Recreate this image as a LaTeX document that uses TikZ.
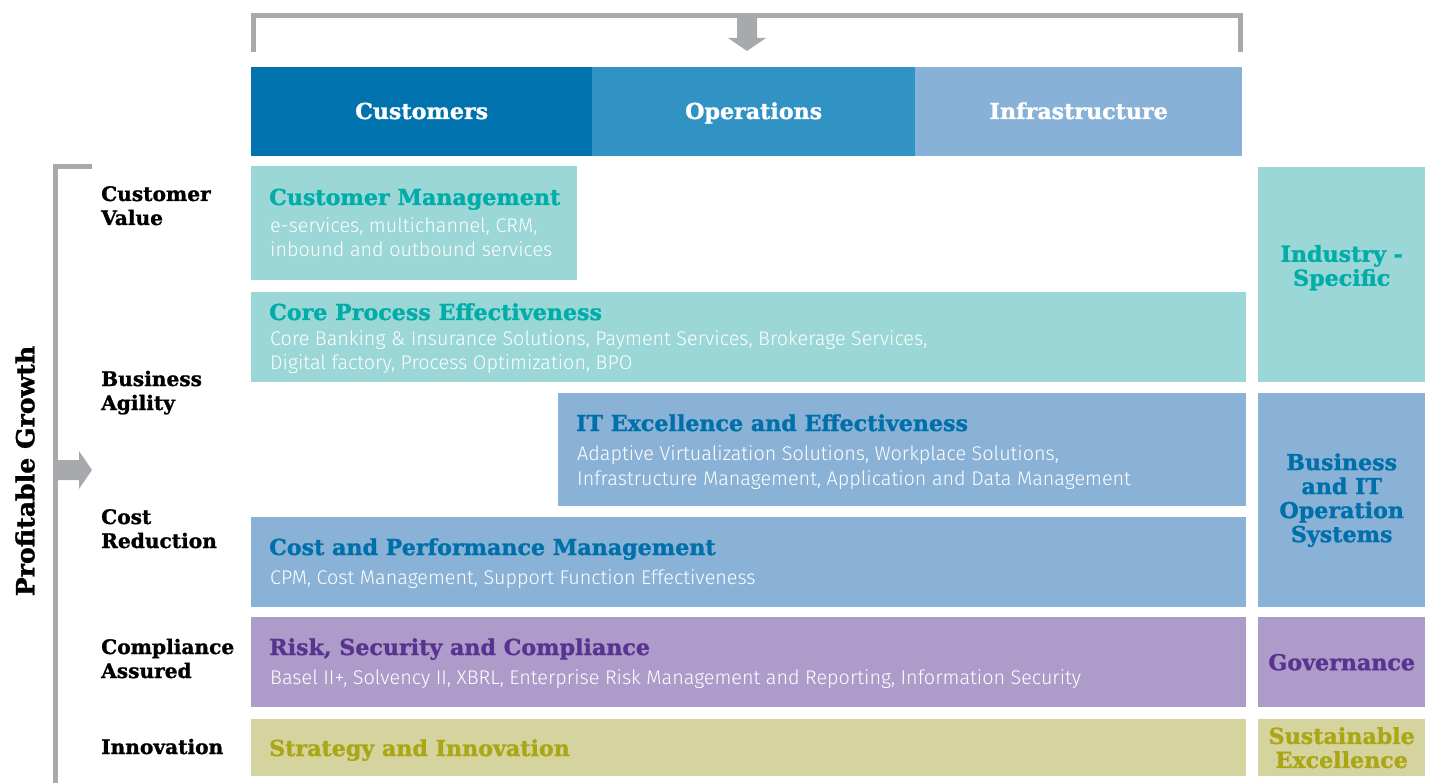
\documentclass[tikz,border=0pt]{standalone}
\usepackage{fontspec}
\newfontfamily\slab{DejaVu Serif Condensed}[BoldFont={DejaVu Serif Condensed Bold},BoldFeatures={FakeBold=1.2,FakeStretch=1.12}]
\newfontfamily\body{Fira Sans Light}
\definecolor{brgray}{RGB}{168,169,172}
\definecolor{hdrA}{RGB}{0,114,174}
\definecolor{hdrB}{RGB}{49,146,196}
\definecolor{hdrC}{RGB}{135,177,214}
\definecolor{tealbox}{RGB}{155,215,214}
\definecolor{tealtxt}{RGB}{0,173,168}
\definecolor{bluebox}{RGB}{137,178,214}
\definecolor{bluetxt}{RGB}{0,112,170}
\definecolor{purbox}{RGB}{173,156,202}
\definecolor{purtxt}{RGB}{88,52,144}
\definecolor{olvbox}{RGB}{214,212,158}
\definecolor{olvtxt}{RGB}{170,166,20}
\tikzset{
  box/.style={draw=none,anchor=north west,inner sep=0pt},
  hdr/.style={anchor=base,inner sep=0pt,text=white,font=\slab\bfseries\fontsize{22}{24}\selectfont},
  ttl/.style={anchor=base west,inner sep=0pt,font=\slab\bfseries\fontsize{22}{24}\selectfont},
  sub/.style={anchor=base west,inner sep=0pt,text=white,font=\body\fontsize{19.8}{24}\selectfont},
  lbl/.style={anchor=base west,inner sep=0pt,text=black,font=\slab\bfseries\fontsize{20}{24}\selectfont},
  side/.style={align=center,inner sep=0pt,font=\slab\bfseries\fontsize{22}{24}\selectfont},
  brk/.style={draw=brgray,line width=5pt},
}
\begin{document}
\begin{tikzpicture}[x=1pt,y=-1pt]
\useasboundingbox (0,0) rectangle (1432,783);
% top bracket
\coordinate (tl) at (253,52);
\coordinate (tr) at (1240,52);
\draw[brk] (tl) |- (747,16) -| (tr);
\fill[brgray] (737,14) -- (757,14) -- (757,38) -- (766,38) -- (747,51) -- (728,38) -- (737,38) -- cycle;
% left bracket
\coordinate (lb) at (55,783);
\draw[brk] (lb) |- (92,167);
\fill[brgray] (53,460) -- (79,460) -- (79,451) -- (92,470) -- (79,489) -- (79,480) -- (53,480) -- cycle;
\node[rotate=90,font=\slab\bfseries\fontsize{25}{26}\selectfont,inner sep=0pt] (pg) at (25,471) {Profitable Growth};
% headers
\node[box,fill=hdrA,minimum width=341pt,minimum height=89pt] (cust) at (251,67) {};
\node[box,fill=hdrB,minimum width=323pt,minimum height=89pt] (oper) at (592,67) {};
\node[box,fill=hdrC,minimum width=327pt,minimum height=89pt] (infra) at (915,67) {};
\node[hdr] at (cust.center |- 0,119) {Customers};
\node[hdr] at (oper.center |- 0,119) {Operations};
\node[hdr] at (infra.center |- 0,119) {Infrastructure};
% main boxes
\node[box,fill=tealbox,minimum width=326pt,minimum height=114pt] (cm) at (251,166) {};
\node[box,fill=tealbox,minimum width=995pt,minimum height=90pt] (cp) at (251,292) {};
\node[box,fill=bluebox,minimum width=688pt,minimum height=113pt] (it) at (558,393) {};
\node[box,fill=bluebox,minimum width=995pt,minimum height=90pt] (cpm) at (251,517) {};
\node[box,fill=purbox,minimum width=995pt,minimum height=90pt] (rsc) at (251,617) {};
\node[box,fill=olvbox,minimum width=995pt,minimum height=57pt] (si) at (251,719) {};
% right column
\node[box,fill=tealbox,minimum width=167pt,minimum height=215pt] (ind) at (1258,167) {};
\node[box,fill=bluebox,minimum width=167pt,minimum height=214pt] (bit) at (1258,393) {};
\node[box,fill=purbox,minimum width=167pt,minimum height=90pt] (gov) at (1258,617) {};
\node[box,fill=olvbox,minimum width=167pt,minimum height=57pt] (sus) at (1258,719) {};
\node[side,text=tealtxt] at ([yshift=7pt]ind.center) {Industry -\\Specific};
\node[side,text=bluetxt] at (bit.center) {Business\\and IT\\Operation\\Systems};
\node[side,text=purtxt] at (gov.center) {Governance};
\node[side,text=olvtxt] at (sus.center) {Sustainable\\Excellence};
% titles and texts
\node[ttl,text=tealtxt] at (269,205) {Customer Management};
\node[sub] at (270,233) {e-services, multichannel, CRM,};
\node[sub] at (270,257) {inbound and outbound services};
\node[ttl,text=tealtxt] at (269,320) {Core Process Effectiveness};
\node[sub] at (270,346) {Core Banking \& Insurance Solutions, Payment Services, Brokerage Services,};
\node[sub] at (270,370) {Digital factory, Process Optimization, BPO};
\node[ttl,text=bluetxt] at (576,431) {IT Excellence and Effectiveness};
\node[sub] at (577,460) {Adaptive Virtualization Solutions, Workplace Solutions,};
\node[sub] at (577,485) {Infrastructure Management, Application and Data Management};
\node[ttl,text=bluetxt] at (269,555) {Cost and Performance Management};
\node[sub] at (270,584) {CPM, Cost Management, Support Function Effectiveness};
\node[ttl,text=purtxt] at (269,655) {Risk, Security and Compliance};
\node[sub] at (270,684) {Basel II+, Solvency II, XBRL, Enterprise Risk Management and Reporting, Information Security};
\node[ttl,text=olvtxt] at (269,756) {Strategy and Innovation};
% left labels
\node[lbl] at (101,201) {Customer};
\node[lbl] at (101,225) {Value};
\node[lbl] at (101,386) {Business};
\node[lbl] at (101,410) {Agility};
\node[lbl] at (101,524) {Cost};
\node[lbl] at (101,548) {Reduction};
\node[lbl] at (101,654) {Compliance};
\node[lbl] at (101,678) {Assured};
\node[lbl] at (101,754) {Innovation};
\end{tikzpicture}
\end{document}
